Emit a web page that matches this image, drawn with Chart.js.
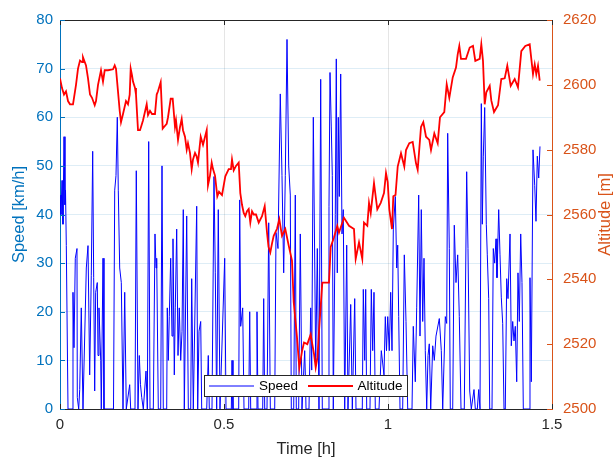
<!DOCTYPE html>
<html>
<head>
<meta charset="utf-8">
<script src="https://cdn.jsdelivr.net/npm/chart.js@4.4.0/dist/chart.umd.min.js"></script>
<style>
  html, body { margin: 0; padding: 0; background: #ffffff; }
  canvas { display: block; }
</style>
</head>
<body>
<canvas id="c" width="614" height="459"></canvas>
<script>
// Ride log: speed samples (km/h) and altitude samples (m) against elapsed time (h)
const speedTime = [
  0.0000,0.0030,0.0061,0.0091,0.0122,0.0152,0.0168,0.0192,0.0244,0.0366,
  0.0396,0.0427,0.0466,0.0518,0.0527,0.0570,0.0601,0.0649,0.0701,0.0802,
  0.0854,0.0905,0.0954,0.0997,0.1027,0.1058,0.1088,0.1137,0.1159,0.1189,
  0.1241,0.1259,0.1311,0.1341,0.1631,0.1668,0.1707,0.1747,0.1777,0.1820,
  0.1869,0.1921,0.1973,0.2021,0.2125,0.2155,0.2287,0.2326,0.2378,0.2418,
  0.2454,0.2491,0.2540,0.2622,0.2662,0.2704,0.2744,0.2845,0.2896,0.2927,
  0.2948,0.2997,0.3070,0.3110,0.3149,0.3253,0.3271,0.3302,0.3332,0.3375,
  0.3415,0.3445,0.3485,0.3515,0.3558,0.3598,0.3637,0.3680,0.3720,0.3759,
  0.3790,0.3863,0.3912,0.3985,0.4015,0.4064,0.4168,0.4198,0.4238,0.4290,
  0.4320,0.4473,0.4521,0.4552,0.4634,0.4695,0.4735,0.4777,0.4826,0.4878,
  0.5021,0.5061,0.5223,0.5244,0.5274,0.5448,0.5479,0.5509,0.5570,0.5610,
  0.5753,0.5784,0.5814,0.5976,0.6006,0.6037,0.6180,0.6210,0.6241,0.6311,
  0.6363,0.6412,0.6546,0.6585,0.6646,0.6716,0.6768,0.6820,0.6869,0.6921,
  0.6973,0.7021,0.7052,0.7125,0.7174,0.7204,0.7277,0.7326,0.7378,0.7460,
  0.7485,0.7500,0.7591,0.7643,0.7674,0.7723,0.7796,0.7845,0.7896,0.7948,
  0.7997,0.8171,0.8201,0.8232,0.8271,0.8302,0.8332,0.8393,0.8424,0.8454,
  0.8485,0.8515,0.8558,0.8598,0.8637,0.8680,0.8741,0.8780,0.8863,0.8912,
  0.8985,0.9024,0.9216,0.9247,0.9290,0.9320,0.9351,0.9451,0.9491,0.9534,
  0.9573,0.9613,0.9726,0.9796,0.9878,0.9918,0.9954,0.9991,1.0040,1.0082,
  1.0122,1.0162,1.0223,1.0265,1.0296,1.0326,1.0366,1.0448,1.0497,1.0549,
  1.0601,1.0732,1.0771,1.0832,1.0875,1.0936,1.0976,1.1015,1.1058,1.1098,
  1.1137,1.1180,1.1220,1.1259,1.1302,1.1363,1.1412,1.1463,1.1564,1.1625,
  1.1668,1.1747,1.1790,1.1820,1.1869,1.1899,1.1973,1.2021,1.2073,1.2125,
  1.2174,1.2226,1.2326,1.2399,1.2439,1.2491,1.2540,1.2622,1.2662,1.2723,
  1.2765,1.2805,1.2845,1.2875,1.2906,1.2948,1.2997,1.3027,1.3070,1.3101,
  1.3171,1.3210,1.3253,1.3293,1.3323,1.3375,1.3415,1.3454,1.3497,1.3537,
  1.3576,1.3619,1.3659,1.3720,1.3759,1.3802,1.3841,1.3881,1.3924,1.3963,
  1.4003,1.4046,1.4085,1.4125,1.4299,1.4329,1.4369,1.4421,1.4473,1.4512,
  1.4552,1.4595,1.4634
];
const speedKmh = [
  44,40,47,38,56,42,45,33.6,0,0,
  24,12.6,31,33,2.4,0,4,20.8,0,29,
  33.6,7,27.5,53,27,3.7,24,26,11,20.8,
  10,0,31,0,0,45,48,60,45,29,
  26,0,24,0,5,0,0,49,0,11,
  5,2.4,0,7.8,0,55,0,0,36,29,
  31,0,0,50,0,0,20.8,10,19,31,
  15,35,7,20.8,37,11,20.8,10,16,41,
  0,39.7,0,0,26.8,0,41.7,0,16,18,
  0,0,11,0,0,47.8,28,0,41,0,
  31,0,0,10,0,0,43,17,20.8,0,
  0,20,0,0,20,0,0,22.7,0,0,
  38.3,0,0,36.3,33,64.8,48,28,48,76,
  50,44,0,0,44,0,0,36,0,12,
  5.6,0,0,20.8,8,60,9,33,0,67.8,
  0,0,41.7,69.2,58,48,0,40,72,28,
  60,43.7,68.9,36,41,0,33.7,0,21.5,0,
  22.7,0,0,24.6,10,24.6,0,0,24.6,12,
  24,0,0,12,7,19,12,19,12,24,
  12,37,43.7,29,33.7,19,0,0,31.7,18,
  0,0,17,5.6,20.8,44,15,41,18,31,
  12,0,11,13.4,0,13,10,15,18.6,12,
  0,19,17.6,56.7,33,0,0,37.8,26,31.7,
  19,0,0,48.8,33,3.7,0,4,0,0,
  4,0,62.8,38,52,62,38,31.7,22.7,0,
  0,33,30,35,27,41,31.7,23,17.6,0,
  0,26.8,22.7,36,13,18,14,17,5.6,28,
  18,36,26,0,0,27,5.6,53.3,46,38.6,
  52,47.5,54
];
const altTime = [
  0.0000,0.0061,0.0122,0.0183,0.0244,0.0305,0.0396,0.0488,0.0549,0.0610,
  0.0671,0.0701,0.0793,0.0854,0.0915,0.0976,0.1058,0.1098,0.1159,0.1250,
  0.1311,0.1363,0.1463,0.1616,0.1668,0.1707,0.1768,0.1820,0.1860,0.1921,
  0.2012,0.2073,0.2125,0.2155,0.2195,0.2226,0.2287,0.2317,0.2378,0.2439,
  0.2470,0.2530,0.2643,0.2683,0.2744,0.2805,0.2896,0.2948,0.2988,0.3070,
  0.3131,0.3171,0.3253,0.3293,0.3375,0.3436,0.3506,0.3537,0.3598,0.3659,
  0.3710,0.3750,0.3811,0.3863,0.3902,0.3963,0.4015,0.4055,0.4116,0.4162,
  0.4207,0.4290,0.4360,0.4473,0.4512,0.4573,0.4625,0.4665,0.4726,0.4796,
  0.4848,0.4939,0.5040,0.5143,0.5213,0.5244,0.5296,0.5366,0.5448,0.5497,
  0.5549,0.5601,0.5649,0.5701,0.5753,0.5802,0.5854,0.5906,0.5976,0.6058,
  0.6159,0.6241,0.6311,0.6357,0.6412,0.6463,0.6515,0.6616,0.6686,0.6768,
  0.6869,0.6973,0.7073,0.7125,0.7226,0.7296,0.7378,0.7439,0.7540,0.7643,
  0.7692,0.7744,0.7796,0.7851,0.7896,0.7997,0.8201,0.8253,0.8354,0.8454,
  0.8506,0.8659,0.8811,0.8963,0.9015,0.9116,0.9216,0.9268,0.9369,0.9421,
  0.9473,0.9573,0.9674,0.9778,0.9878,0.9939,0.9991,1.0040,1.0122,1.0162,
  1.0229,1.0296,1.0396,1.0497,1.0549,1.0649,1.0753,1.0854,1.0905,1.1006,
  1.1076,1.1159,1.1259,1.1311,1.1412,1.1515,1.1585,1.1716,1.1790,1.1869,
  1.1973,1.2073,1.2125,1.2174,1.2226,1.2378,1.2491,1.2591,1.2662,1.2796,
  1.2845,1.2896,1.2948,1.2997,1.3101,1.3149,1.3232,1.3354,1.3454,1.3558,
  1.3637,1.3741,1.3863,1.3963,1.4064,1.4186,1.4320,1.4421,1.4473,1.4521,
  1.4573,1.4625
];
const altitudeM = [
  2602,2599,2597,2598,2595,2594,2594,2600,2605,2607.5,
  2607,2608.5,2606,2602,2597,2596,2593.7,2595,2600,2604.5,
  2601,2604.5,2604.5,2604.8,2606,2605,2598,2592,2588.5,2591,
  2595,2594,2597,2605,2603,2601,2599,2597,2586,2586,
  2587,2589,2594,2590.7,2592,2591,2591,2597,2598,2600.8,
  2586.5,2587,2588,2590,2595.7,2595.7,2587,2589,2583,2587,
  2589.5,2586,2584,2580,2582,2579,2574,2577,2579,2578,
  2576,2584,2581.5,2586,2569,2572,2576,2574,2572,2565.6,
  2567,2566,2571.8,2574,2574,2577,2573.6,2575,2576,2566.6,
  2563,2560.5,2559.5,2561,2561.7,2557.5,2561,2560,2560,2557.5,
  2559.5,2562.6,2554.5,2550,2548.3,2551,2553.4,2555.6,2558.5,2553.4,
  2555.5,2550.4,2545.8,2533,2522,2512.7,2517.8,2520.5,2520,2523,
  2520,2517,2512.8,2516,2524,2539,2539,2550,2553,2556.5,
  2554.4,2559,2556.5,2555.5,2546.3,2551.4,2546.3,2557.5,2556.5,2563.6,
  2560.5,2569.7,2561.6,2563.6,2566.6,2572.8,2570,2561.6,2555.5,2565.6,
  2566,2574.8,2578.9,2574.8,2579.9,2582,2582.4,2575.8,2573.8,2587,
  2588.5,2584,2583,2579.9,2585,2582,2590,2591.6,2600.2,2596,
  2602.3,2605.3,2609.4,2612,2608,2608,2611.5,2612,2607.4,2608,
  2612.5,2607.4,2594,2597.7,2599.7,2595.2,2591.6,2593.7,2601.8,2602,
  2605.9,2599.7,2601.8,2599.2,2610.4,2612,2612.5,2603.3,2606.3,2603.3,
  2605.9,2601.3
];

const seriesNames = ['Speed', 'Altitude'];
const axisTitles = { x: 'Time [h]', left: 'Speed [km/h]', right: 'Altitude [m]' };

const COL_LEFT = '#0072BD';
const COL_RIGHT = '#D95319';
const COL_AXIS = '#262626';
const COL_SPEED = '#0000FF';
const COL_ALT = '#FF0000';
const FONT = '"Liberation Sans", Arial, Helvetica, sans-serif';

const speedPoints = speedTime.map((t, i) => ({ x: t, y: speedKmh[i] }));
const altPoints = altTime.map((t, i) => ({ x: t, y: altitudeM[i] }));

// plain number labels (no thousands separator, no forced decimals)
const plainLabel = v => String(Math.round(v * 1000) / 1000);

// Box outline, inward tick marks, right-hand label and in-plot legend
const decorations = {
  id: 'decorations',
  afterDraw(chart) {
    const { ctx, chartArea: a, scales } = chart;
    ctx.save();
    ctx.lineWidth = 1;

    // top edge of the box
    ctx.strokeStyle = COL_AXIS;
    ctx.beginPath();
    ctx.moveTo(a.left, a.top + 0.5);
    ctx.lineTo(a.right, a.top + 0.5);
    ctx.stroke();

    const tl = 5;
    // x ticks on bottom and top edges, pointing inward
    ctx.strokeStyle = COL_AXIS;
    scales.x.ticks.forEach(t => {
      const px = Math.round(scales.x.getPixelForValue(t.value)) + 0.5;
      ctx.beginPath();
      ctx.moveTo(px, a.bottom); ctx.lineTo(px, a.bottom - tl);
      ctx.moveTo(px, a.top); ctx.lineTo(px, a.top + tl);
      ctx.stroke();
    });
    // left axis ticks
    ctx.strokeStyle = COL_LEFT;
    scales.y.ticks.forEach(t => {
      const py = Math.round(scales.y.getPixelForValue(t.value)) + 0.5;
      ctx.beginPath();
      ctx.moveTo(a.left, py); ctx.lineTo(a.left + tl, py);
      ctx.stroke();
    });
    // right axis ticks
    ctx.strokeStyle = COL_RIGHT;
    scales.y1.ticks.forEach(t => {
      const py = Math.round(scales.y1.getPixelForValue(t.value)) + 0.5;
      ctx.beginPath();
      ctx.moveTo(a.right, py); ctx.lineTo(a.right - tl, py);
      ctx.stroke();
    });

    // right axis title, reading bottom to top
    ctx.save();
    ctx.fillStyle = COL_RIGHT;
    ctx.font = '16.5px ' + FONT;
    ctx.textAlign = 'center';
    ctx.textBaseline = 'middle';
    ctx.translate(605, (a.top + a.bottom) / 2);
    ctx.rotate(-Math.PI / 2);
    ctx.fillText(axisTitles.right, 0, 0);
    ctx.restore();

    // legend box inside the plot, bottom centre
    const bx = 204.5, by = 375.5, bw = 203, bh = 21;
    ctx.fillStyle = '#ffffff';
    ctx.fillRect(bx, by, bw, bh);
    ctx.strokeStyle = COL_AXIS;
    ctx.lineWidth = 1;
    ctx.strokeRect(bx, by, bw, bh);
    const cy = by + bh / 2;
    ctx.font = '13.5px ' + FONT;
    ctx.textAlign = 'left';
    ctx.textBaseline = 'middle';
    ctx.strokeStyle = COL_SPEED;
    ctx.lineWidth = 1;
    ctx.beginPath(); ctx.moveTo(209, cy); ctx.lineTo(254, cy); ctx.stroke();
    ctx.fillStyle = '#000000';
    ctx.fillText(seriesNames[0], 259, cy + 0.5);
    ctx.strokeStyle = COL_ALT;
    ctx.lineWidth = 1.8;
    ctx.beginPath(); ctx.moveTo(308, cy); ctx.lineTo(353, cy); ctx.stroke();
    ctx.fillText(seriesNames[1], 357.5, cy + 0.5);

    ctx.restore();
  }
};

new Chart(document.getElementById('c'), {
  type: 'line',
  data: {
    datasets: [
      {
        label: seriesNames[0],
        data: speedPoints,
        yAxisID: 'y',
        borderColor: COL_SPEED,
        borderWidth: 1,
        pointRadius: 0,
        tension: 0,
        order: 1
      },
      {
        label: seriesNames[1],
        data: altPoints,
        yAxisID: 'y1',
        borderColor: COL_ALT,
        borderWidth: 1.8,
        pointRadius: 0,
        tension: 0,
        order: 0
      }
    ]
  },
  options: {
    responsive: false,
    animation: false,
    devicePixelRatio: 1,
    layout: { padding: { top: 16, left: 0, right: 0, bottom: 0 } },
    plugins: {
      legend: { display: false },
      tooltip: { enabled: false }
    },
    scales: {
      x: {
        type: 'linear',
        min: 0,
        max: 1.5,
        ticks: {
          stepSize: 0.5,
          color: COL_AXIS,
          font: { family: FONT, size: 15 },
          padding: 7,
          maxRotation: 0,
          callback: plainLabel
        },
        grid: { color: 'rgba(38,38,38,0.12)', drawTicks: false },
        border: { color: COL_AXIS, width: 1 },
        title: {
          display: true,
          text: axisTitles.x,
          color: COL_AXIS,
          font: { family: FONT, size: 16.5 },
          padding: { top: 0, bottom: 0 }
        },
        afterFit(scale) { scale.height = 50; }
      },
      y: {
        type: 'linear',
        position: 'left',
        min: 0,
        max: 80,
        ticks: {
          stepSize: 10,
          color: COL_LEFT,
          font: { family: FONT, size: 15 },
          padding: 7,
          callback: plainLabel
        },
        grid: { color: 'rgba(0,114,189,0.13)', drawTicks: false },
        border: { color: COL_LEFT, width: 1 },
        title: {
          display: true,
          text: axisTitles.left,
          color: COL_LEFT,
          font: { family: FONT, size: 16.5 },
          padding: { top: 10, bottom: 0 }
        },
        afterFit(scale) { scale.width = 60; }
      },
      y1: {
        type: 'linear',
        position: 'right',
        min: 2500,
        max: 2620,
        ticks: {
          stepSize: 20,
          color: COL_RIGHT,
          font: { family: FONT, size: 15 },
          padding: 11,
          callback: plainLabel
        },
        grid: { drawOnChartArea: false, drawTicks: false },
        border: { color: COL_RIGHT, width: 1 },
        title: { display: false },
        afterFit(scale) { scale.width = 62; }
      }
    }
  },
  plugins: [decorations]
});
</script>
</body>
</html>
